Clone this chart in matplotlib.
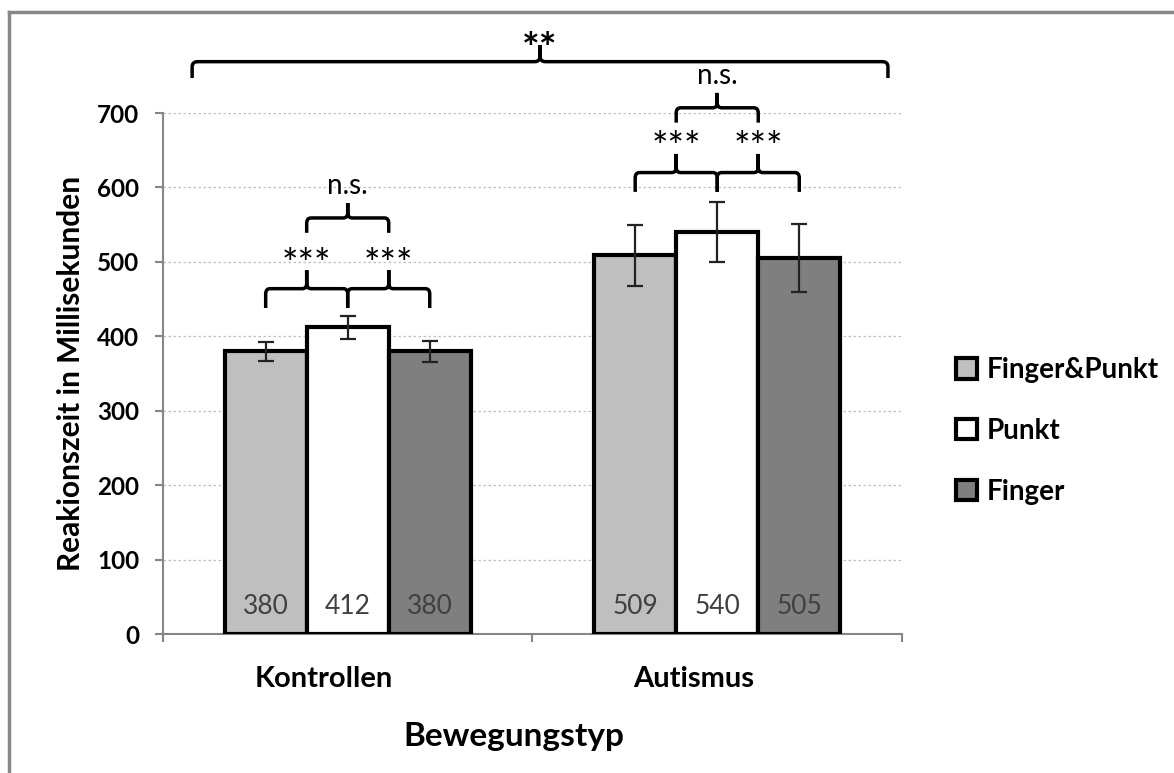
import numpy as np
import matplotlib.pyplot as plt
from matplotlib.path import Path
from matplotlib.patches import PathPatch, Patch
from matplotlib.lines import Line2D
from matplotlib.transforms import ScaledTranslation

plt.rcParams['font.family'] = ['Lato', 'DejaVu Sans']

groups = ['Kontrollen', 'Autismus']
conditions = ['Finger&Punkt', 'Punkt', 'Finger']
cond_colors = ['#bfbfbf', '#ffffff', '#7f7f7f']

fp_means = [380, 509]
punkt_means = [412, 540]
finger_means = [380, 505]
fp_err = [13, 41]
punkt_err = [15, 40]
finger_err = [14, 46]

# significance annotations
pair_label = '***'
pair_level = [464, 620]      # lower braces per group
ns_label = 'n.s.'
ns_level = [559, 707]        # upper braces per group
group_label = '**'
group_level = 769

means = [fp_means, punkt_means, finger_means]
errs = [fp_err, punkt_err, finger_err]

fig = plt.figure(figsize=(11.74, 7.73), dpi=100)
ax = fig.add_axes([0.1388, 0.1798, 0.6295, 0.674])

x = np.arange(len(groups))
w = 0.222
offsets = [-w, 0, w]
for m, e, c, off, name in zip(means, errs, cond_colors, offsets, conditions):
    ax.bar(x + off, m, w, color=c, edgecolor='black', linewidth=3, label=name, zorder=3)
    ax.errorbar(x + off, m, yerr=e, fmt='none', ecolor='#222222', elinewidth=1.6,
                capsize=5.5, capthick=1.6, zorder=4)
    for xi, v in zip(x + off, m):
        ax.text(xi, 37, str(v), ha='center', va='center', fontsize=19, color='#404040', zorder=5)

ax.set_xlim(-0.5, 1.5)
ax.set_ylim(0, 700)
ax.set_yticks(range(0, 701, 100))
ax.yaxis.grid(True, color='#bfbfbf', linestyle=(0, (2, 2)), linewidth=0.9)
ax.set_axisbelow(True)
for s in ['top', 'right']:
    ax.spines[s].set_visible(False)
for s in ['left', 'bottom']:
    ax.spines[s].set_color('#868686')
    ax.spines[s].set_linewidth(1.5)
ax.tick_params(axis='y', length=6, width=1.5, color='#868686', pad=11, labelsize=17.5)
for t in ax.get_yticklabels():
    t.set_fontweight('bold')
ax.set_xticks([-0.5, 0.5, 1.5])
ax.set_xticklabels([])
ax.tick_params(axis='x', which='major', length=6, width=1.5, color='#868686', direction='out')
ax.set_xticks(x, minor=True)
ax.set_xticklabels(groups, minor=True, fontsize=21, fontweight='bold')
ax.tick_params(axis='x', which='minor', length=0, pad=23)
shift = ScaledTranslation(-0.24, 0, fig.dpi_scale_trans)
for t in ax.xaxis.get_minorticklabels():
    t.set_transform(t.get_transform() + shift)

ax.set_ylabel('Reakionszeit in Millisekunden', fontsize=21.5, fontweight='bold', labelpad=9)
fig.text(0.438, 0.0466, 'Bewegungstyp', ha='center', va='center', fontsize=24, fontweight='bold')


def brace(x0, x1, y, drop, rise, rx=0.012, ry=7):
    xm = (x0 + x1) / 2
    verts = [(x0, y - drop), (x0, y - ry), (x0, y), (x0 + rx, y), (xm - rx, y), (xm, y),
             (xm, y + ry), (xm, y + rise),
             (x1, y - drop), (x1, y - ry), (x1, y), (x1 - rx, y), (xm + rx, y), (xm, y),
             (xm, y + ry), (xm, y + rise)]
    codes = [Path.MOVETO, Path.LINETO, Path.CURVE3, Path.CURVE3, Path.LINETO,
             Path.CURVE3, Path.CURVE3, Path.LINETO] * 2
    ax.add_patch(PathPatch(Path(verts, codes), fill=False, lw=2.5, ec='black',
                           clip_on=False, zorder=6))
    return xm


for g in range(len(groups)):
    xs = [g + off for off in offsets]
    y = pair_level[g]
    m1 = brace(xs[0], xs[1], y, 26, 25)
    m2 = brace(xs[1], xs[2], y, 26, 25)
    for mx in (m1, m2):
        ax.text(mx, y + 31, pair_label, ha='center', va='center', fontsize=28, clip_on=False)
    y2 = ns_level[g]
    mt = brace(m1, m2, y2, 20, 20)
    ax.text(mt, y2 + 43, ns_label, ha='center', va='center', fontsize=20, clip_on=False)

mt = brace(-0.421, 1.462, group_level, 22, 22, rx=0.015)
ax.text(mt, group_level + 14, group_label, ha='center', va='center', fontsize=30,
        fontweight='bold', clip_on=False)

handles = [Patch(facecolor=c, edgecolor='black', linewidth=3) for c in cond_colors]
fig.legend(handles, conditions, loc='center left', bbox_to_anchor=(942 / 1174, 1 - 431 / 773),
           frameon=False, handlelength=0.75, handleheight=0.75, handletextpad=0.35,
           labelspacing=1.25, prop={'size': 20, 'weight': 'bold'}, borderpad=0)

# outer frame (cropped screenshot border)
fig.add_artist(Line2D([9 / 1174, 1], [1 - 12 / 773] * 2, color='#888888', lw=2.5))
fig.add_artist(Line2D([9 / 1174] * 2, [0, 1 - 12 / 773], color='#888888', lw=2.5))

fig.savefig('out.png', dpi=100)
